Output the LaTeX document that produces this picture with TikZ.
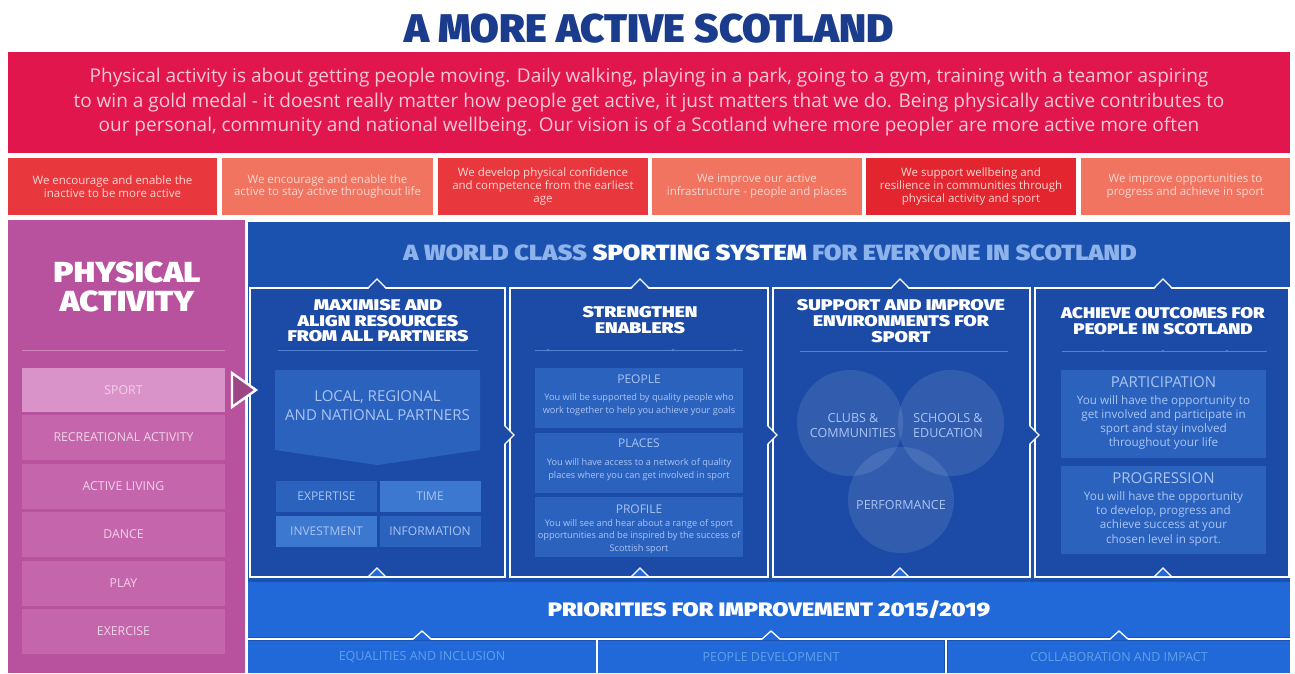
\documentclass[tikz,border=0pt]{standalone}
\usepackage{fontspec}
\setmainfont{Open Sans}
\newfontfamily\heavy{Fira Sans}[UprightFont=* Black]

\definecolor{navy}{HTML}{1B3C8C}
\definecolor{banner}{HTML}{E0164C}
\definecolor{bannertxt}{HTML}{F8C8D6}
\definecolor{oRed}{HTML}{E8383D}
\definecolor{oSalmon}{HTML}{F0745F}
\definecolor{oDeep}{HTML}{E2252F}
\definecolor{otxt}{HTML}{FCD8D2}
\definecolor{pinkpanel}{HTML}{B8529E}
\definecolor{pinkitem}{HTML}{C566AC}
\definecolor{pinksel}{HTML}{D993C9}
\definecolor{pinktxt}{HTML}{F0D2E8}
\definecolor{hdblue}{HTML}{1C52AF}
\definecolor{colblue}{HTML}{1B4BA6}
\definecolor{boxblue}{HTML}{2B62BE}
\definecolor{boxlight}{HTML}{3C78D0}
\definecolor{lighttxt}{HTML}{A9C5F2}
\definecolor{hdlight}{HTML}{8DB3EA}
\definecolor{prioblue}{HTML}{2169D8}
\definecolor{priotxt}{HTML}{5FA0EA}
\definecolor{divline}{HTML}{4F82D2}

% wide heavy lettering used by all headings
\newcommand{\wide}[2]{\scalebox{#1}[1]{\begin{tabular}{@{}c@{}}#2\end{tabular}}}

\tikzset{
  plain/.style={inner sep=0, align=center},
  heading/.style={plain, text=white, font=\heavy\fontsize{15.5}{15.5}\selectfont},
  outcome/.style={plain, minimum height=57, text=otxt, font=\fontsize{11.5}{12.8}\selectfont},
  pitem/.style={plain, fill=pinkitem, minimum width=203, minimum height=45, text=pinktxt, font=\fontsize{12.3}{14}\selectfont},
  column/.style={draw=white, line width=1.3, fill=colblue},
  ibox/.style={plain, fill=boxblue},
  btitle/.style={plain, text=lighttxt, font=\fontsize{12}{14}\selectfont},
  bbody/.style={plain, text=lighttxt, font=\fontsize{9.2}{12.8}\selectfont},
  ctitle/.style={plain, text=lighttxt, font=\fontsize{15}{16}\selectfont},
  cbody/.style={plain, text=lighttxt, font=\fontsize{11.7}{14.3}\selectfont},
  gridbox/.style={plain, minimum width=101, minimum height=31, text=lighttxt, font=\fontsize{12}{13}\selectfont},
  venn/.style={circle, fill=white, fill opacity=0.10, minimum size=106, inner sep=0},
  vlabel/.style={plain, text=lighttxt, font=\fontsize{12.5}{15}\selectfont},
  divider/.style={draw=divline, line width=0.9},
  notch/.style={draw=white, line width=1.3, line join=miter},
  prio/.style={plain, fill=prioblue, minimum height=32, text=priotxt, font=\fontsize{12.5}{13}\selectfont},
}

\begin{document}
\begin{tikzpicture}[x=1pt,y=-1pt]
\useasboundingbox (0,0) rectangle (1295,673);
\fill[white] (0,0) rectangle (1295,673);

% ---------- title ----------
\node[plain, text=navy, font=\heavy\fontsize{40}{40}\selectfont] (title) at (649,29)
  {\scalebox{1.04}[1]{A MORE ACTIVE SCOTLAND}};

% ---------- vision banner ----------
\node[plain, fill=banner, minimum width=1282, minimum height=101, text=bannertxt,
      font=\fontsize{19}{24.5}\selectfont] (banner) at (649,102.5)
  {Physical activity is about getting people moving. Daily walking, playing in a park, going to a gym, training with a teamor aspiring\\
   to win a gold medal - it doesnt really matter how people get active, it just matters that we do. Being physically active contributes to\\
   our personal, community and national wellbeing. Our vision is of a Scotland where more peopler are more active more often};

% ---------- six outcomes ----------
\node[outcome, fill=oRed, minimum width=209] (o1) at (112.5,186.5)
  {We encourage and enable the\\inactive to be more active};
\node[outcome, fill=oSalmon, minimum width=211] (o2) at (327.5,186.5)
  {We encourage and enable the\\active to stay active throughout life};
\node[outcome, fill=oRed, minimum width=210] (o3) at (543,186.5)
  {We develop physical confidence\\and competence from the earliest\\age};
\node[outcome, fill=oSalmon, minimum width=210] (o4) at (757,186.5)
  {We improve our active\\infrastructure - people and places};
\node[outcome, fill=oDeep, minimum width=210] (o5) at (971,186.5)
  {We support wellbeing and\\resilience in communities through\\physical activity and sport};
\node[outcome, fill=oSalmon, minimum width=209] (o6) at (1185.5,186.5)
  {We improve opportunities to\\progress and achieve in sport};

% ---------- physical activity panel ----------
\fill[pinkpanel] (8,220) rectangle (245,673);
\node[plain, text=white, font=\heavy\fontsize{29}{28}\selectfont] (pa) at (127,291)
  {\wide{1.14}{PHYSICAL\\ACTIVITY}};
\draw[draw=pinkitem!80!white, line width=1] (22,350) -- (225,350);
\node[pitem, fill=pinksel, minimum height=44] (sport) at (123.5,390) {SPORT};
\node[pitem] (rec) at (123.5,437.5) {RECREATIONAL ACTIVITY};
\node[pitem] (living) at (123.5,486) {ACTIVE LIVING};
\node[pitem] (dance) at (123.5,534.5) {DANCE};
\node[pitem] (play) at (123.5,583) {PLAY};
\node[pitem] (exercise) at (123.5,631.5) {EXERCISE};

% ---------- sporting system ----------
\fill[hdblue] (248,222) rectangle (1290,673);
\node[plain, text=white, font=\heavy\fontsize{22}{22}\selectfont] (system) at (770,253)
  {\scalebox{1.15}[1]{{\color{hdlight}A WORLD CLASS} SPORTING SYSTEM {\color{hdlight}FOR EVERYONE IN SCOTLAND}}};

\draw[column] (250,288) rectangle (505,577);
\draw[column] (510,288) rectangle (768,577);
\draw[column] (773,288) rectangle (1030,577);
\draw[column] (1035,288) rectangle (1289,577);

% notches joining the header to each column
\foreach \cx in {377,640,900,1163} {
  \fill[colblue] (\cx-9,289.5) -- (\cx,279) -- (\cx+9,289.5) -- cycle;
  \draw[notch] (\cx-9,288) -- (\cx,279) -- (\cx+9,288);
  \fill[prioblue] (\cx-9,576) -- (\cx,568) -- (\cx+9,576) -- cycle;
  \draw[notch] (\cx-9,577) -- (\cx,568) -- (\cx+9,577);
}
% arrows passing from one column to the next
\foreach \rx in {505,768,1030} {
  \fill[colblue] (\rx-1,426) -- (\rx+9,435) -- (\rx-1,444) -- cycle;
  \draw[notch] (\rx,426) -- (\rx+9,435) -- (\rx,444);
}
% arrow from the sport item into the system
\draw[draw=white, line width=2.4, fill=pinkpanel!85!black, line join=miter]
  (232,373) -- (256,390) -- (232,407) -- cycle;

% column 1
\node[heading] (h1) at (378,323) {\wide{1.25}{MAXIMISE AND\\ALIGN RESOURCES\\FROM ALL PARTNERS}};
\draw[divider] (278,350) -- (478,350);
\fill[boxblue] (275,370) -- (480,370) -- (480,450) -- (377.5,465) -- (275,450) -- cycle;
\node[plain, text=lighttxt, font=\fontsize{15}{19}\selectfont] (partners) at (377.5,406)
  {LOCAL, REGIONAL\\AND NATIONAL PARTNERS};
\node[gridbox, fill=boxblue] (expertise) at (326.5,496.5) {EXPERTISE};
\node[gridbox, fill=boxlight] (time) at (430,496.5) {TIME};
\node[gridbox, fill=boxlight] (investment) at (326.5,531.5) {INVESTMENT};
\node[gridbox, fill=boxblue] (information) at (430,531.5) {INFORMATION};

% column 2
\node[heading] (h2) at (640,322) {\wide{1.25}{STRENGTHEN\\ENABLERS}};
\draw[divider] (535,350) -- (743,350);
\foreach \dx in {548,673,735} \fill[divline] (\dx,350) circle (1.4);
\node[ibox, minimum width=208, minimum height=60] (people) at (639,398) {};
\node[btitle] (peoplet) at (639,379) {PEOPLE};
\node[bbody] (peopleb) at (639,404.5) {You will be supported by quality people who\\work together to help you achieve your goals};
\node[ibox, minimum width=208, minimum height=60] (places) at (639,463) {};
\node[btitle] (placest) at (639,443) {PLACES};
\node[bbody] (placesb) at (639,469.5) {You will have access to a network of quality\\places where you can get involved in sport};
\node[ibox, minimum width=208, minimum height=60] (profile) at (639,527) {};
\node[btitle] (profilet) at (639,509) {PROFILE};
\node[bbody] (profileb) at (639,536.5) {You will see and hear about a range of sport\\opportunities and be inspired by the success of\\Scottish sport};

% column 3
\node[heading] (h3) at (901,323.5) {\wide{1.25}{SUPPORT AND IMPROVE\\ENVIRONMENTS FOR\\SPORT}};
\draw[divider] (800,351) -- (1008,351);
\node[venn] (clubs) at (850,423) {};
\node[venn] (schools) at (951,423) {};
\node[venn] (perf) at (901,500) {};
\node[vlabel] at (clubs.center) [xshift=3pt, yshift=-3pt] (clubst) {CLUBS \&\\COMMUNITIES};
\node[vlabel] at (schools.center) [xshift=-3pt, yshift=-3pt] (schoolst) {SCHOOLS \&\\EDUCATION};
\node[vlabel] at (perf.center) [yshift=-5pt] (perft) {PERFORMANCE};

% column 4
\node[heading] (h4) at (1163,323) {\wide{1.2}{ACHIEVE OUTCOMES FOR\\PEOPLE IN SCOTLAND}};
\draw[divider] (1062,351) -- (1267,351);
\foreach \dx in {1103,1163,1227} \fill[divline] (\dx,351) circle (1.4);
\node[ibox, minimum width=205, minimum height=88] (part) at (1163.5,414) {};
\node[ctitle] (partt) at (1163.5,382) {PARTICIPATION};
\node[cbody] (partb) at (1163.5,422.5) {You will have the opportunity to\\get involved and participate in\\sport and stay involved\\throughout your life};
\node[ibox, minimum width=205, minimum height=88] (prog) at (1163.5,510) {};
\node[ctitle] (progt) at (1163.5,478) {PROGRESSION};
\node[cbody] (progb) at (1163.5,518.5) {You will have the opportunity\\to develop, progress and\\achieve success at your\\chosen level in sport.};

% ---------- priorities ----------
\node[plain, fill=prioblue, minimum width=1042, minimum height=55] (priorities) at (769,609.5) {};
\node[plain, text=white, font=\heavy\fontsize{19.5}{19}\selectfont] (priot) at (priorities.center)
  {\scalebox{1.2}[1]{PRIORITIES FOR IMPROVEMENT 2015/2019}};
\node[prio, minimum width=348] (equal) at (422,657) {EQUALITIES AND INCLUSION};
\node[prio, minimum width=346] (peopledev) at (771,657) {PEOPLE DEVELOPMENT};
\node[prio, minimum width=342] (collab) at (1119,657) {COLLABORATION AND IMPACT};
\draw[draw=white, line width=1.3] (248,639) -- (1290,639);
\foreach \cx in {422,771,1119} {
  \fill[prioblue] (\cx-9,640) -- (\cx,631) -- (\cx+9,640) -- cycle;
  \draw[notch] (\cx-9,639) -- (\cx,631) -- (\cx+9,639);
}
\draw[draw=white, line width=1.3] (597,640) -- (597,673);
\draw[draw=white, line width=1.3] (946,640) -- (946,673);
\end{tikzpicture}
\end{document}
